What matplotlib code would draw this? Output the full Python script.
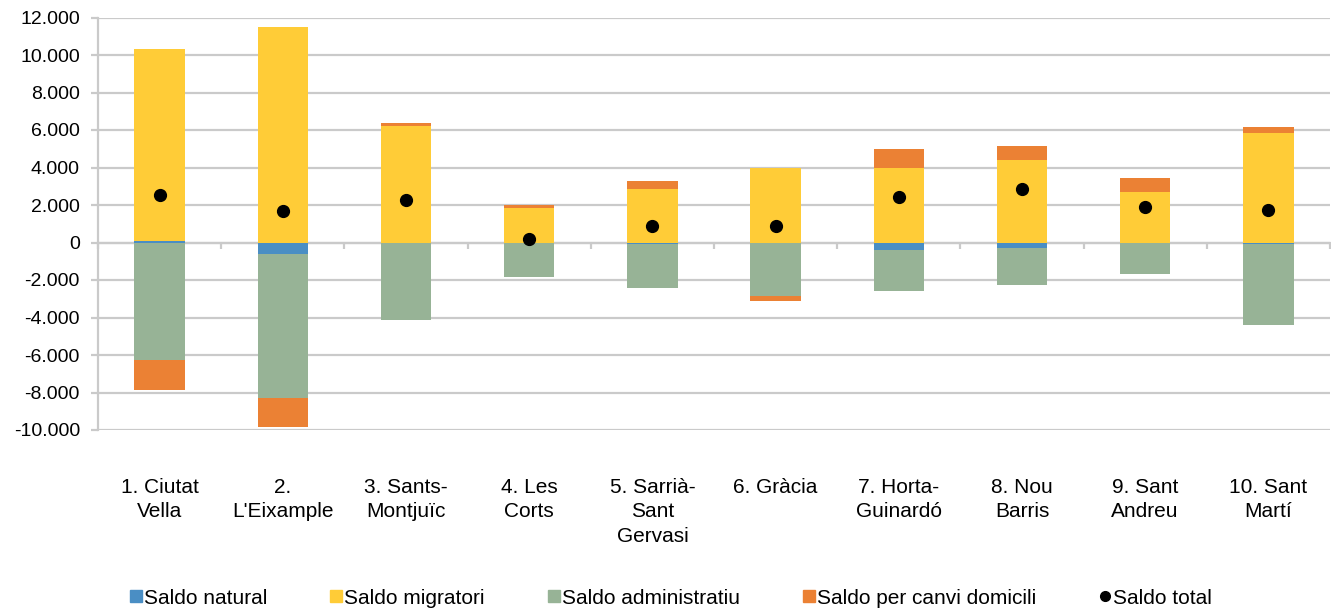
import matplotlib.pyplot as plt
import matplotlib.transforms as mtransforms
from matplotlib.lines import Line2D
import numpy as np

plt.rcParams['font.family'] = ['Liberation Sans', 'DejaVu Sans']

# Data
districts = ['1. Ciutat\nVella', '2.\nL\'Eixample', '3. Sants-\nMontjuïc', '4. Les\nCorts',
             '5. Sarrià-\nSant\nGervasi', '6. Gràcia', '7. Horta-\nGuinardó', '8. Nou\nBarris',
             '9. Sant\nAndreu', '10. Sant\nMartí']
saldo_natural = [70, -600, -30, -50, -60, -30, -410, -270, -50, -60]
saldo_migratori = [10270, 11475, 6217, 1850, 2850, 3970, 3980, 4425, 2710, 5855]
saldo_administratiu = [-6290, -7675, -4125, -1790, -2370, -2825, -2160, -2000, -1650, -4350]
saldo_canvi = [-1560, -1560, 143, 145, 430, -285, 1020, 715, 720, 285]
saldo_total = [2525, 1690, 2260, 175, 855, 855, 2410, 2840, 1875, 1715]

series = [
    ('Saldo natural', saldo_natural, '#4A8EC4'),
    ('Saldo migratori', saldo_migratori, '#FFCC37'),
    ('Saldo administratiu', saldo_administratiu, '#97B396'),
    ('Saldo per canvi domicili', saldo_canvi, '#EB8134'),
]

fig = plt.figure(figsize=(13.31, 6.09), dpi=100)
ax = fig.add_axes([98 / 1331, 1 - 430 / 609, 1232 / 1331, (430 - 17.5) / 609])

x = np.arange(len(districts))
pos_bottom = np.zeros(len(x))
neg_bottom = np.zeros(len(x))
for name, vals, col in series:
    vals = np.array(vals, dtype=float)
    bottom = np.where(vals >= 0, pos_bottom, neg_bottom)
    ax.bar(x, vals, width=0.41, bottom=bottom, color=col, zorder=2)
    pos_bottom += np.where(vals >= 0, vals, 0)
    neg_bottom += np.where(vals < 0, vals, 0)

ax.plot(x, saldo_total, 'o', color='black', markersize=8.5, zorder=3)

ax.set_xlim(-0.5, len(x) - 0.5)
ax.set_ylim(-10000, 12000)
yt = np.arange(-10000, 12001, 2000)
ax.set_yticks(yt)
ax.set_yticklabels([f'{v:,}'.replace(',', '.') for v in yt], fontsize=14)
ax.yaxis.grid(True, color='#CACACA', linewidth=1.6, zorder=0)
ax.set_axisbelow(True)
ax.tick_params(axis='y', length=5, color='#CACACA', width=1.6, pad=8)

for s in ['top', 'right']:
    ax.spines[s].set_visible(False)
ax.spines['left'].set_color('#CACACA')
ax.spines['left'].set_linewidth(1.6)
ax.spines['bottom'].set_position(('data', 0))
ax.spines['bottom'].set_color('#CACACA')
ax.spines['bottom'].set_linewidth(1.6)
ax.spines['bottom'].set_zorder(1)

ax.set_xticks(np.arange(-0.5, len(x), 1.0))
ax.set_xticklabels([])
ax.tick_params(axis='x', length=4, color='#CACACA', width=1.6)

trans = mtransforms.blended_transform_factory(ax.transData, fig.transFigure)
for xi, label in zip(x, districts):
    ax.text(xi, 1 - 478 / 609, label, transform=trans, ha='center', va='top',
            fontsize=15, linespacing=1.35)

handles = [Line2D([], [], marker='s', linestyle='', color=c, markersize=8) for _, _, c in series]
handles.append(Line2D([], [], marker='o', linestyle='', color='black', markersize=7))
labels = [n for n, _, _ in series] + ['Saldo total']
fig.legend(handles, labels, loc='center', bbox_to_anchor=(0.504, 1 - 598 / 609), ncol=5,
           frameon=False, fontsize=15, handlelength=0.6, handletextpad=0.1,
           columnspacing=3.0, borderpad=0)

fig.savefig('out.png', dpi=100)
